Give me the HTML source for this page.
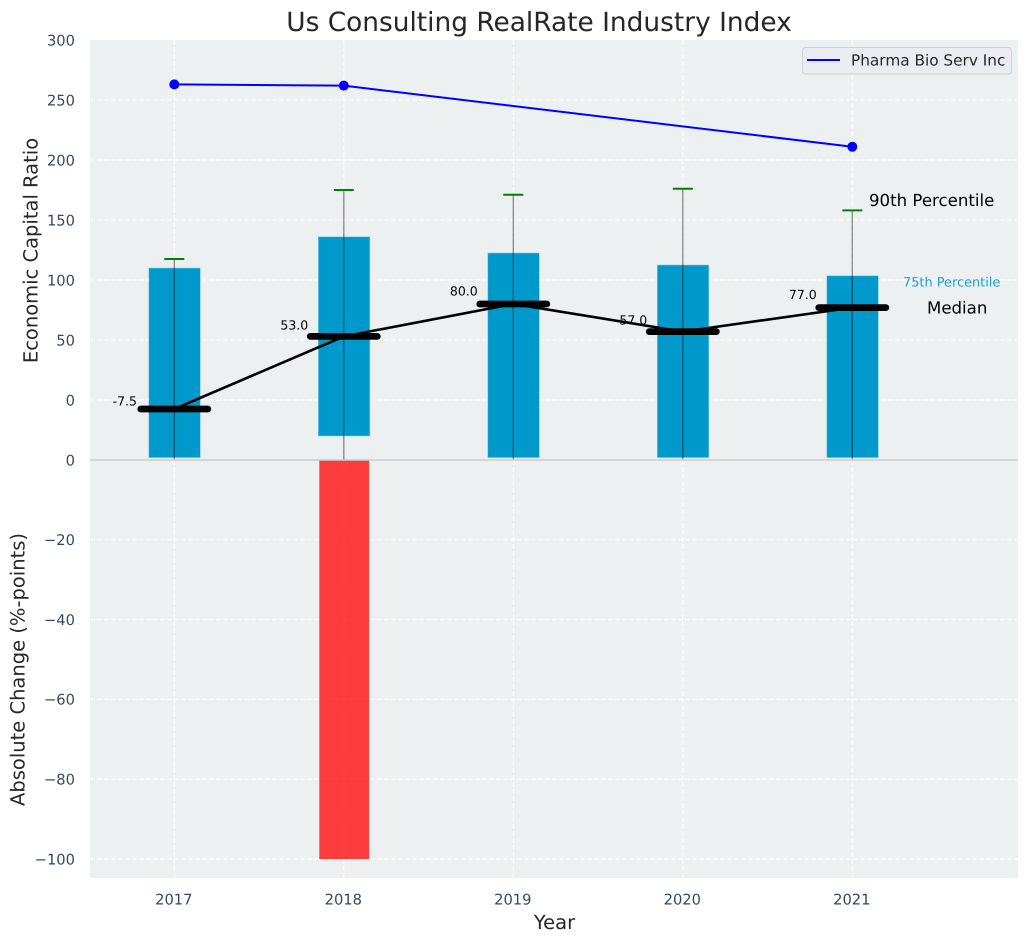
<!DOCTYPE html>
<html lang="en">
<head>
<meta charset="utf-8">
<title>Us Consulting RealRate Industry Index</title>
<style>
html,body{margin:0;padding:0;background:#fff;width:1029px;height:942px;overflow:hidden}
svg{display:block;font-family:"DejaVu Sans","Liberation Sans",sans-serif;text-rendering:geometricPrecision}
</style>
</head>
<body>
<svg id="chart" xmlns="http://www.w3.org/2000/svg" width="1029" height="942" viewBox="0 0 1029 942">
  <defs>
    <clipPath id="top-clip"><rect x="90" y="40" width="928" height="420"/></clipPath>
  </defs>
  <rect width="1029" height="942" fill="#ffffff"/>
  <rect x="90" y="40" width="928" height="420" fill="#ecf0f1"/>
  <rect x="90" y="460" width="928" height="418" fill="#ecf0f1"/>
  <g id="grid"></g>
  <g id="marks"></g>
  <line x1="90" x2="1018" y1="460" y2="460" stroke="#cccccc" stroke-width="1.6"/>
  <g id="axes"></g>
  <text x="539" y="31" text-anchor="middle" font-size="26.4" fill="#262626">Us Consulting RealRate Industry Index</text>
  <text transform="translate(37.5,250.5) rotate(-90)" text-anchor="middle" font-size="19.5" fill="#262626">Economic Capital Ratio</text>
  <text transform="translate(24.5,669.5) rotate(-90)" text-anchor="middle" font-size="19.5" fill="#262626">Absolute Change (%-points)</text>
  <text x="554.5" y="929" text-anchor="middle" font-size="19.5" fill="#262626">Year</text>
  <text x="869" y="206" font-size="16.6" fill="#000000">90th Percentile</text>
  <text x="903" y="286.5" font-size="12.9" fill="#1a9fcf">75th Percentile</text>
  <text x="927" y="313.5" font-size="16.6" fill="#000000">Median</text>
  <g>
    <rect x="802.5" y="47.5" width="209" height="26.5" rx="3" fill="#eaecf1" stroke="#cfd1d4"/>
    <line x1="807" x2="840" y1="60" y2="60" stroke="#0000ff" stroke-width="2"/>
    <text x="851" y="65.5" font-size="15.3" fill="#262626">Pharma Bio Serv Inc</text>
  </g>
  <script>
    const years = [2017, 2018, 2019, 2020, 2021];
    const p90 = [117.5, 175, 171, 176, 158];
    const p75 = [110, 136, 122.5, 112.5, 103.5];
    const p25 = [-48, -30, -48, -48, -48];
    const p10 = [-50, -50, -50, -50, -50];
    const medians = [-7.5, 53, 80, 57, 77];
    const company = [263, 262, null, null, 211];
    const absChange = [null, -100, null, null, null];
    const upperTicks = [0, 50, 100, 150, 200, 250, 300];
    const lowerTicks = [0, -20, -40, -60, -80, -100];

    const NS = 'http://www.w3.org/2000/svg';
    const xScale = function (year) { return 174.3 + (year - 2017) * 169.5; };
    const yUpper = function (v) { return 400 - v * 1.2; };
    const yLower = function (v) { return 460 - v * 3.99; };
    const gridGroup = document.getElementById('grid');
    const marksGroup = document.getElementById('marks');
    const axesGroup = document.getElementById('axes');

    function make(tag, attrs, parent, text) {
      const el = document.createElementNS(NS, tag);
      for (const k in attrs) el.setAttribute(k, attrs[k]);
      if (text !== undefined) el.textContent = text;
      parent.appendChild(el);
      return el;
    }
    function fmt(v) { return v < 0 ? '\u2212' + Math.abs(v) : String(v); }

    upperTicks.forEach(function (t) {
      if (t !== 300) {
        const g = make('line', {x1: 90, x2: 1018, y1: yUpper(t), y2: yUpper(t), stroke: '#ffffff', 'stroke-width': 1.2, 'stroke-dasharray': '5 2', opacity: 0.8}, gridGroup);
        
        
      }
      const l = make('text', {x: 75, y: yUpper(t) + 5.3, 'text-anchor': 'end', 'font-size': 14.7, fill: '#34495e'}, axesGroup, String(t));
      
      
    });
    lowerTicks.forEach(function (t) {
      if (t !== 0) {
        const g = make('line', {x1: 90, x2: 1018, y1: yLower(t), y2: yLower(t), stroke: '#ffffff', 'stroke-width': 1.2, 'stroke-dasharray': '5 2', opacity: 0.8}, gridGroup);
        
        
      }
      const l = make('text', {x: 75, y: yLower(t) + 5.3, 'text-anchor': 'end', 'font-size': 14.7, fill: '#34495e'}, axesGroup, fmt(t));
      
      
    });
    years.forEach(function (y) {
      const g = make('line', {x1: xScale(y), x2: xScale(y), y1: 40, y2: 878, stroke: '#ffffff', 'stroke-width': 1.2, 'stroke-dasharray': '5 2', opacity: 0.8}, gridGroup);
      
      
      const l = make('text', {x: xScale(y) - 0.5, y: 904.5, 'text-anchor': 'middle', 'font-size': 14.7, fill: '#34495e'}, axesGroup, String(y));
      
      
    });

    const upperClip = make('g', {'clip-path': 'url(#top-clip)'}, marksGroup);
    
    

    years.forEach(function (y, i) {
      const x = xScale(y);
      const bar = make('rect', {x: x - 25.5, y: yUpper(p75[i]), width: 51.5, height: yUpper(p25[i]) - yUpper(p75[i]), fill: '#0099cc', stroke: '#7fcce5', 'stroke-width': 0.6}, upperClip);
      
      
    });

    absChange.forEach(function (v, i) {
      if (v === null) return;
      const x = xScale(years[i]);
      const bar = make('rect', {x: x - 24.5, y: yLower(0), width: 49.7, height: yLower(v) - yLower(0), fill: '#ff0000', 'fill-opacity': 0.75}, marksGroup);
      
      
    });

    years.forEach(function (y, i) {
      const x = xScale(y);
      const w = make('line', {x1: x, x2: x, y1: yUpper(p90[i]), y2: yUpper(p10[i]), stroke: '#000000', 'stroke-opacity': 0.45, 'stroke-width': 1.3}, upperClip);
      
      
      const c = make('line', {x1: x - 10, x2: x + 10, y1: yUpper(p90[i]), y2: yUpper(p90[i]), stroke: '#008000', 'stroke-width': 2}, upperClip);
      
      
    });

    const medianPts = years.map(function (y, i) { return xScale(y) + ',' + yUpper(medians[i]); }).join(' ');
    const medianLine = make('polyline', {points: medianPts, fill: 'none', stroke: '#000000', 'stroke-width': 2.6}, upperClip);
    
    

    years.forEach(function (y, i) {
      const x = xScale(y);
      const m = make('line', {x1: x - 33.5, x2: x + 33.5, y1: yUpper(medians[i]), y2: yUpper(medians[i]), stroke: '#000000', 'stroke-width': 6.8, 'stroke-linecap': 'round'}, upperClip);
      
      
      const t = make('text', {x: x - 49.5, y: yUpper(medians[i] * 1.05 + 7) + 4.6, 'text-anchor': 'middle', 'font-size': 12.5, fill: '#000000'}, upperClip, medians[i].toFixed(1));
      
      
    });

    const companyPts = [];
    company.forEach(function (v, i) {
      if (v !== null) companyPts.push(xScale(years[i]) + ',' + yUpper(v));
    });
    const companyLine = make('polyline', {points: companyPts.join(' '), fill: 'none', stroke: '#0000ff', 'stroke-width': 2}, upperClip);
    
    
    company.forEach(function (v, i) {
      if (v === null) return;
      const p = make('circle', {cx: xScale(years[i]), cy: yUpper(v), r: 5, fill: '#0000ff'}, upperClip);
      
      
    });
  </script>
</svg>
</body>
</html>
